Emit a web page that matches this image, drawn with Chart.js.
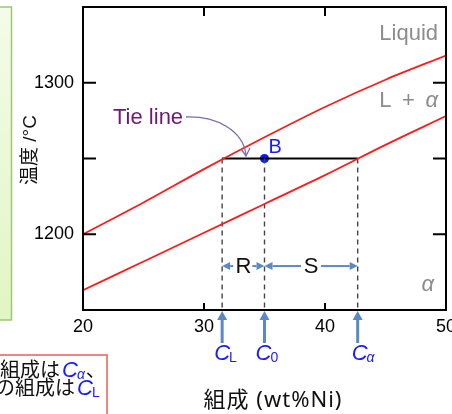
<!DOCTYPE html>
<html><head><meta charset="utf-8">
<script src="https://cdn.jsdelivr.net/npm/chart.js@4"></script>
<style>html,body{margin:0;padding:0;background:#fff;overflow:hidden}#wrap{width:452px;height:414px;position:relative}</style>
</head><body><div id="wrap"><canvas id="c" width="452" height="414"></canvas></div>
<script>
// ---- data ----
const compositions = [20, 25, 30, 35, 40, 45, 50];
const liquidusT    = [1200, 1221, 1243, 1264, 1284, 1302, 1318];
const solidusT     = [1163, 1182, 1201, 1220, 1239, 1259, 1278];
const tieT = 1250;
const cL = 31.5, c0 = 35.0, cAlpha = 42.7;
const xTickLabels = [20, 30, 40, 50];
const yTickLabels = [1200, 1300];
const xTickMarks = [30, 40];
const yTickMarks = [1200, 1250, 1300];
const xMin = 20, xMax = 50, yMin = 1150, yMax = 1350;
const arrowT = 1179;

const LAT = '"Liberation Sans", Arial, sans-serif';
const JP = '"Liberation Sans", "Noto Sans CJK JP", sans-serif';
const JPW = '"Noto Sans", "Noto Sans CJK JP", sans-serif';
const RED = '#ff1a1a', ARROW = '#5b89c4', BLUE = '#1a1aff', GRAY = '#8c8c8c';

const pts = (xs, ys) => xs.map((x, i) => ({x, y: ys[i]}));
const vline = (x) => [{x, y: tieT}, {x, y: yMin}];

function arrow(ctx, x1, y1, x2, y2, color, lw, hl, hw) {
  const a = Math.atan2(y2 - y1, x2 - x1);
  const bx = x2 - hl * Math.cos(a), by = y2 - hl * Math.sin(a);
  ctx.save();
  ctx.strokeStyle = color; ctx.fillStyle = color; ctx.lineWidth = lw;
  ctx.beginPath(); ctx.moveTo(x1, y1); ctx.lineTo(bx, by); ctx.stroke();
  ctx.beginPath();
  ctx.moveTo(x2, y2);
  ctx.lineTo(bx + hw / 2 * Math.sin(a), by - hw / 2 * Math.cos(a));
  ctx.lineTo(bx - hw / 2 * Math.sin(a), by + hw / 2 * Math.cos(a));
  ctx.closePath(); ctx.fill();
  ctx.restore();
}

function cLabel(ctx, x, y, sub, subItalic, size, subSize) {
  ctx.save();
  ctx.fillStyle = BLUE; ctx.textBaseline = 'alphabetic'; ctx.textAlign = 'left';
  ctx.font = 'italic ' + size + 'px ' + LAT;
  const w = ctx.measureText('C').width;
  ctx.fillText('C', x, y);
  ctx.font = (subItalic ? 'italic ' : '') + subSize + 'px ' + LAT;
  ctx.fillText(sub, x + w - 1, y + 2);
  const ws = ctx.measureText(sub).width;
  ctx.restore();
  return x + w - 1 + ws;
}

const deco = {
  id: 'deco',
  afterDraw(chart) {
    const ctx = chart.ctx, a = chart.chartArea;
    const xs = chart.scales.x, ys = chart.scales.y;
    ctx.save();
    // green panel on the left
    const g = ctx.createLinearGradient(0, 7, 0, 320);
    g.addColorStop(0, '#f3fce8'); g.addColorStop(1, '#e2f5c4');
    ctx.fillStyle = g; ctx.fillRect(-5, 7, 16.5, 313);
    ctx.strokeStyle = '#9fc673'; ctx.lineWidth = 1.5; ctx.strokeRect(-5, 7, 16.5, 313);
    // red text box bottom-left
    ctx.fillStyle = '#fff'; ctx.fillRect(-5, 355, 112, 60);
    ctx.strokeStyle = '#ef5b5b'; ctx.lineWidth = 1.5; ctx.strokeRect(-5, 355, 112, 60);
    ctx.fillStyle = '#111'; ctx.font = '20px ' + JP; ctx.textBaseline = 'alphabetic';
    ctx.textAlign = 'right';
    ctx.fillText('組成は', 60, 377);
    ctx.fillText('の組成は', 75, 395);
    const e1 = cLabel(ctx, 62, 377, 'α', true, 22, 14);
    ctx.fillStyle = '#111'; ctx.font = '20px ' + JP; ctx.textAlign = 'left';
    ctx.fillText('、', e1 + 1, 377);
    cLabel(ctx, 77, 395, 'L', false, 22, 14);

    // frame
    ctx.strokeStyle = '#000'; ctx.lineWidth = 2;
    ctx.strokeRect(a.left, a.top, a.right - a.left, a.bottom - a.top);
    // inward ticks
    yTickMarks.forEach(v => {
      const py = ys.getPixelForValue(v);
      ctx.beginPath(); ctx.moveTo(a.left, py); ctx.lineTo(a.left + 13, py); ctx.stroke();
      ctx.beginPath(); ctx.moveTo(a.right, py); ctx.lineTo(a.right - 13, py); ctx.stroke();
    });
    xTickMarks.forEach(v => {
      const px = xs.getPixelForValue(v);
      ctx.beginPath(); ctx.moveTo(px, a.bottom); ctx.lineTo(px, a.bottom - 7); ctx.stroke();
      ctx.beginPath(); ctx.moveTo(px, a.top); ctx.lineTo(px, a.top + 9); ctx.stroke();
    });

    // region labels
    ctx.fillStyle = GRAY; ctx.textBaseline = 'alphabetic';
    ctx.font = '22px ' + LAT; ctx.textAlign = 'right';
    ctx.fillText('Liquid', 438, 40);
    ctx.font = 'italic 22px ' + LAT;
    const wa = ctx.measureText('α').width;
    ctx.fillText('α', 438, 107);
    ctx.font = '22px ' + LAT;
    ctx.fillText('L \u2009+\u2009 ', 438 - wa, 107);
    ctx.font = 'italic 22px ' + LAT;
    ctx.fillText('α', 434, 291);

    // Tie line label + curved arrow
    ctx.fillStyle = '#6d1b70'; ctx.font = '22px ' + LAT; ctx.textAlign = 'left';
    ctx.fillText('Tie line', 113, 124);
    ctx.strokeStyle = '#7d6bb0'; ctx.lineWidth = 1.3;
    ctx.beginPath(); ctx.moveTo(186, 117);
    ctx.bezierCurveTo(216, 116, 243, 130, 246, 155); ctx.stroke();
    ctx.beginPath(); ctx.moveTo(241, 149); ctx.lineTo(246, 156); ctx.lineTo(250, 148); ctx.stroke();

    // B label
    const bx = xs.getPixelForValue(c0), by = ys.getPixelForValue(tieT);
    ctx.fillStyle = BLUE; ctx.font = '20px ' + LAT;
    ctx.fillText('B', bx + 4, by - 6);

    // R / S lever arms
    const pL = xs.getPixelForValue(cL), p0 = bx, pA = xs.getPixelForValue(cAlpha);
    const ay = ys.getPixelForValue(arrowT);
    const mR = (pL + p0) / 2, mS = (p0 + pA) / 2;
    ctx.fillStyle = '#111'; ctx.font = '22px ' + LAT; ctx.textAlign = 'center'; ctx.textBaseline = 'middle';
    ctx.fillText('R', mR, ay + 1);
    ctx.fillText('S', mS, ay + 1);
    arrow(ctx, mR - 10, ay, pL, ay, ARROW, 2, 8, 8);
    arrow(ctx, mR + 9, ay, p0, ay, ARROW, 2, 8, 8);
    arrow(ctx, mS - 10, ay, p0, ay, ARROW, 2, 8, 8);
    arrow(ctx, mS + 10, ay, pA, ay, ARROW, 2, 8, 8);

    // composition arrows below axis
    [pL, p0, pA].forEach(px => arrow(ctx, px, 343, px, a.bottom + 1, ARROW, 3, 9, 10));
    cLabel(ctx, pL - 8, 360, 'L', false, 22, 14);
    cLabel(ctx, p0 - 9, 360, '0', false, 22, 14);
    cLabel(ctx, pA - 6, 360, 'α', true, 22, 14);

    // axis titles
    ctx.fillStyle = '#111'; ctx.textAlign = 'center'; ctx.textBaseline = 'middle';
    ctx.font = '22px ' + JPW;
    try { ctx.letterSpacing = '1px'; } catch (e) {}
    ctx.fillText('組成 (wt%Ni)', 273, 401);
    try { ctx.letterSpacing = '0px'; } catch (e) {}
    ctx.font = '19px ' + JP;
    ctx.translate(31, 150); ctx.rotate(-Math.PI / 2);
    ctx.fillText('温度 /°C', 0, 0);
    ctx.restore();
  }
};

new Chart(document.getElementById('c'), {
  type: 'scatter',
  data: {
    datasets: [
      {data: pts(compositions, liquidusT), showLine: true, borderColor: RED, borderWidth: 1.8, pointRadius: 0, cubicInterpolationMode: 'monotone'},
      {data: pts(compositions, solidusT), showLine: true, borderColor: RED, borderWidth: 1.8, pointRadius: 0, cubicInterpolationMode: 'monotone'},
      {data: vline(cL), showLine: true, borderColor: '#444', borderWidth: 1.4, borderDash: [5, 4], pointRadius: 0},
      {data: vline(c0), showLine: true, borderColor: '#444', borderWidth: 1.4, borderDash: [5, 4], pointRadius: 0},
      {data: vline(cAlpha), showLine: true, borderColor: '#444', borderWidth: 1.4, borderDash: [5, 4], pointRadius: 0},
      {data: [{x: cL, y: tieT}, {x: cAlpha, y: tieT}], showLine: true, borderColor: '#000', borderWidth: 2, pointRadius: 0},
      {data: [{x: c0, y: tieT}], pointRadius: 4.5, pointBackgroundColor: '#0a1aff', pointBorderColor: '#0a1aff', pointBorderWidth: 0}
    ]
  },
  options: {
    responsive: false, animation: false, devicePixelRatio: 1,
    layout: {padding: {left: 0, right: 6, top: 7, bottom: 0}},
    plugins: {legend: {display: false}, tooltip: {enabled: false}},
    scales: {
      x: {
        type: 'linear', min: xMin, max: xMax,
        grid: {display: false, drawTicks: false}, border: {display: false},
        ticks: {stepSize: 10, autoSkip: false, maxRotation: 0, padding: 6, color: '#000',
          font: {family: LAT, size: 18},
          callback: v => xTickLabels.includes(v) ? String(v) : ''},
        afterFit: s => { s.height = 104; s.paddingLeft = 0; s.paddingRight = 0; }
      },
      y: {
        type: 'linear', min: yMin, max: yMax,
        grid: {display: false, drawTicks: false}, border: {display: false},
        ticks: {stepSize: 50, autoSkip: false, padding: 9, color: '#000',
          font: {family: LAT, size: 18},
          callback: v => yTickLabels.includes(v) ? String(v) : ''},
        afterFit: s => { s.width = 83; s.paddingTop = 0; s.paddingBottom = 0; }
      }
    }
  },
  plugins: [deco]
});
</script></body></html>
